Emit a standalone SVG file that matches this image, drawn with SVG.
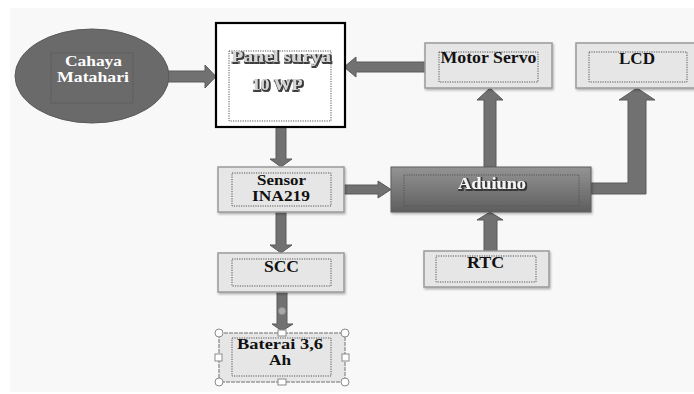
<svg xmlns="http://www.w3.org/2000/svg" width="694" height="394" viewBox="0 0 694 394">
<defs>
<linearGradient id="ardu" x1="0" y1="0" x2="0" y2="1">
<stop offset="0" stop-color="#949494"/>
<stop offset="1" stop-color="#5e5e5e"/>
</linearGradient>
<filter id="sh" x="-10%" y="-10%" width="130%" height="130%">
<feDropShadow dx="1" dy="1.5" stdDeviation="1" flood-color="#000" flood-opacity="0.3"/>
</filter>
<filter id="tsh" x="-10%" y="-30%" width="130%" height="170%">
<feMorphology in="SourceAlpha" operator="dilate" radius="0.6" result="d"/>
<feGaussianBlur in="d" stdDeviation="0.6" result="b"/>
<feOffset in="b" dx="0.8" dy="1" result="o"/>
<feFlood flood-color="#333" flood-opacity="0.95"/>
<feComposite in2="o" operator="in" result="s"/>
<feMerge><feMergeNode in="s"/><feMergeNode in="SourceGraphic"/></feMerge>
</filter>
</defs>
<style>
.box{fill:#e6e6e6;stroke:#9a9a9a;stroke-width:1.5}
.frame{fill:none;stroke:#555;stroke-width:1;stroke-dasharray:1.2 1.2}
.t{font-family:"Liberation Serif","Times New Roman",serif;font-weight:bold;font-size:16px;text-anchor:middle;fill:#111}
.tw{font-family:"Liberation Serif","Times New Roman",serif;font-weight:bold;font-size:15px;text-anchor:middle;fill:#fff}
.te{font-family:"Liberation Serif","Times New Roman",serif;font-weight:bold;font-size:16px;text-anchor:middle;fill:#d6d6d6}
.arr{fill:#717171;stroke:#5a5a5a;stroke-width:1}
.hc{fill:#fff;stroke:#8a8a8a;stroke-width:1}
</style>
<rect x="0" y="0" width="694" height="394" fill="#ffffff"/>
<rect x="10" y="8" width="684" height="384" fill="#f8f8f8"/>

<g id="connectors">
<!-- Cahaya -> Panel -->
<path class="arr" d="M168,71 H205 V65 L216,76.5 L205,88 V82 H168 Z"/>
<!-- Motor Servo -> Panel -->
<path class="arr" d="M425,62 H356 V57 L344,67 L356,77 V72 H425 Z"/>
<!-- Panel -> Sensor -->
<path class="arr" d="M276,127 V159 H270 L281,167 L292,159 H286 V127 Z"/>
<!-- Sensor -> Aduiuno -->
<path class="arr" d="M344,185 H378 V181 L391,189.5 L378,198 V194 H344 Z"/>
<!-- Sensor -> SCC -->
<path class="arr" d="M276,212 V245 H270 L281,253 L292,245 H286 V212 Z"/>
<!-- SCC -> Baterai -->
<path class="arr" d="M277,292 V324 H272 L282,331 L293,324 H287 V292 Z"/>
<circle cx="282" cy="311" r="3.5" fill="#a8a8a8" stroke="#909090" stroke-width="0.8"/>
<!-- Aduiuno -> Motor Servo -->
<path class="arr" d="M484,167 V100 H477 L490,88 L503,100 H496 V167 Z"/>
<!-- RTC -> Aduiuno -->
<path class="arr" d="M484,251 V220 H477 L490,212 L503,220 H497 V251 Z"/>
<!-- Aduiuno -> LCD -->
<path class="arr" d="M591,183 H628 V100 H619 L637,88 L655,100 H646 V194 H591 Z"/>
</g>

<g id="cahaya">
<ellipse cx="92" cy="76" rx="77" ry="47" fill="#6a6a6a" stroke="#5a5a5a" stroke-width="1"/>
<rect class="frame" x="51" y="53" width="82" height="50" stroke="#ddd"/>
<text class="tw" x="93.5" y="66" textLength="57" lengthAdjust="spacingAndGlyphs">Cahaya</text>
<text class="tw" x="93" y="82" textLength="72" lengthAdjust="spacingAndGlyphs">Matahari</text>
</g>

<g id="panel">
<rect x="216" y="23" width="129" height="104" fill="#ffffff" stroke="#000" stroke-width="2.2"/>
<rect class="frame" x="229" y="51" width="102" height="70"/>
<text class="te" x="281" y="62" filter="url(#tsh)" textLength="100" lengthAdjust="spacingAndGlyphs">Panel surya</text>
<text class="te" x="277" y="90" filter="url(#tsh)" textLength="51" lengthAdjust="spacingAndGlyphs">10 WP</text>
</g>

<g id="motor">
<rect class="box" x="425" y="43" width="127" height="45" filter="url(#sh)"/>
<rect class="frame" x="439" y="52" width="99" height="30"/>
<text class="t" x="488.5" y="63" textLength="96" lengthAdjust="spacingAndGlyphs">Motor Servo</text>
</g>

<g id="lcd">
<rect class="box" x="576" y="43" width="120" height="45" filter="url(#sh)"/>
<rect class="frame" x="589" y="52" width="98" height="30"/>
<text class="t" x="637" y="64" textLength="36" lengthAdjust="spacingAndGlyphs">LCD</text>
</g>

<g id="sensor">
<rect class="box" x="218" y="167" width="126" height="45" filter="url(#sh)"/>
<rect class="frame" x="232" y="173" width="99" height="33"/>
<text class="t" x="281.5" y="185" style="font-size:15px" textLength="49" lengthAdjust="spacingAndGlyphs">Sensor</text>
<text class="t" x="281" y="201" style="font-size:15px" textLength="58" lengthAdjust="spacingAndGlyphs">INA219</text>
</g>

<g id="aduiuno">
<rect x="391" y="167" width="200" height="45" fill="url(#ardu)" stroke="#5e5e5e" stroke-width="1" filter="url(#sh)"/>
<rect class="frame" x="404" y="175" width="175" height="31" stroke="#dcdcdc"/>
<text class="te" x="492" y="189" style="fill:#f4f4f4" filter="url(#tsh)" textLength="68" lengthAdjust="spacingAndGlyphs">Aduiuno</text>
</g>

<g id="scc">
<rect class="box" x="218" y="253" width="126" height="39" filter="url(#sh)"/>
<rect class="frame" x="232" y="259" width="99" height="27"/>
<text class="t" x="281.5" y="272" textLength="35" lengthAdjust="spacingAndGlyphs">SCC</text>
</g>

<g id="rtc">
<rect class="box" x="424" y="251" width="125" height="36" filter="url(#sh)"/>
<rect class="frame" x="436" y="256" width="100" height="26"/>
<text class="t" x="485.5" y="268" textLength="37" lengthAdjust="spacingAndGlyphs">RTC</text>
</g>

<g id="baterai">
<rect class="box" x="219" y="333" width="126" height="49" stroke="#8a8a8a" stroke-dasharray="4 1"/>
<rect class="frame" x="232" y="338" width="99" height="38"/>
<text class="t" x="280" y="349" style="font-size:15px" textLength="86" lengthAdjust="spacingAndGlyphs">Baterai 3,6</text>
<text class="t" x="280" y="365" style="font-size:15px" textLength="22" lengthAdjust="spacingAndGlyphs">Ah</text>
<circle class="hc" cx="219" cy="333" r="4"/>
<circle class="hc" cx="345" cy="333" r="4"/>
<circle class="hc" cx="219" cy="382" r="4"/>
<circle class="hc" cx="345" cy="382" r="4"/>
<rect class="hc" x="278" y="330" width="8" height="6"/>
<rect class="hc" x="278" y="379" width="8" height="6"/>
<rect class="hc" x="215" y="354" width="7" height="7"/>
<rect class="hc" x="342" y="354" width="7" height="7"/>
</g>
</svg>
